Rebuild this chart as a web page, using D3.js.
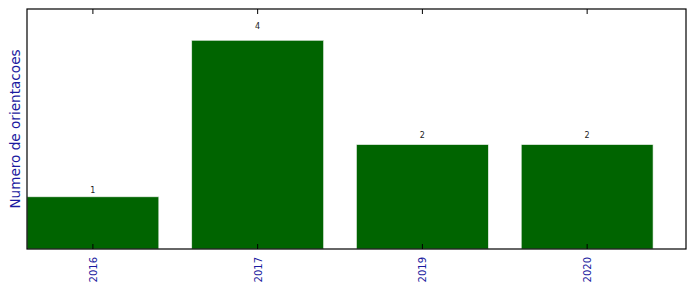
<!DOCTYPE html>
<html>
<head>
<meta charset="utf-8">
<script src="https://cdn.jsdelivr.net/npm/d3@7"></script>
<style>
  body { margin: 0; background: #fff; }
  svg { display: block; font-family: "DejaVu Sans", sans-serif; }
</style>
</head>
<body>
<div id="chart"></div>
<script>
const years = ['2016', '2017', '2019', '2020'];
const counts = [1, 4, 2, 2];
const yLabel = 'Numero de orientacoes';

const width = 696, height = 292;
const margin = { top: 9, right: 10, bottom: 43, left: 27 };
const innerW = width - margin.left - margin.right;
const innerH = height - margin.top - margin.bottom;

const svg = d3.select('#chart').append('svg')
    .attr('width', width)
    .attr('height', height);

const g = svg.append('g')
    .attr('transform', `translate(${margin.left},${margin.top})`);

// bars sit at integer slots, 0.8 wide, axis runs 0..n
const x = d3.scaleLinear().domain([0, years.length]).range([0, innerW]);
const y = d3.scaleLinear().domain([0, 4.6]).range([innerH, 0]);
const barW = 0.8;

g.selectAll('rect.bar')
    .data(counts)
    .join('rect')
    .attr('class', 'bar')
    .attr('x', (d, i) => x(i))
    .attr('y', d => y(d))
    .attr('width', x(barW) - x(0))
    .attr('height', d => y(0) - y(d))
    .attr('fill', '#006400')
    .attr('stroke', '#e8efe8')
    .attr('stroke-width', 0.6);

// value labels sit at 1.05 * height
g.selectAll('text.val')
    .data(counts)
    .join('text')
    .attr('class', 'val')
    .attr('x', (d, i) => x(i + barW / 2))
    .attr('y', d => y(d * 1.05) - 1)
    .attr('text-anchor', 'middle')
    .attr('font-size', '8px')
    .attr('fill', '#222')
    .text(d => d);

// tick marks, inward, top and bottom
const tickPos = years.map((d, i) => x(i + barW / 2));
g.selectAll('line.tb')
    .data(tickPos)
    .join('line')
    .attr('x1', d => d).attr('x2', d => d)
    .attr('y1', innerH).attr('y2', innerH - 5)
    .attr('stroke', '#000');
g.selectAll('line.tt')
    .data(tickPos)
    .join('line')
    .attr('x1', d => d).attr('x2', d => d)
    .attr('y1', 0).attr('y2', 5)
    .attr('stroke', '#000');

// frame
g.append('rect')
    .attr('width', innerW)
    .attr('height', innerH)
    .attr('fill', 'none')
    .attr('stroke', '#000')
    .attr('stroke-width', 1.2);

// rotated tick labels
g.selectAll('text.year')
    .data(years)
    .join('text')
    .attr('class', 'year')
    .attr('transform', (d, i) => `translate(${x(i + barW / 2) + 4},${innerH + 8}) rotate(-90)`)
    .attr('text-anchor', 'end')
    .attr('font-size', '10px')
    .attr('fill', '#1a1aa0')
    .text(d => d);

// y axis title
svg.append('text')
    .attr('transform', `translate(20,${margin.top + innerH / 2}) rotate(-90)`)
    .attr('text-anchor', 'middle')
    .attr('font-size', '13.6px')
    .attr('fill', '#1a1aa0')
    .text(yLabel);
</script>
</body>
</html>
